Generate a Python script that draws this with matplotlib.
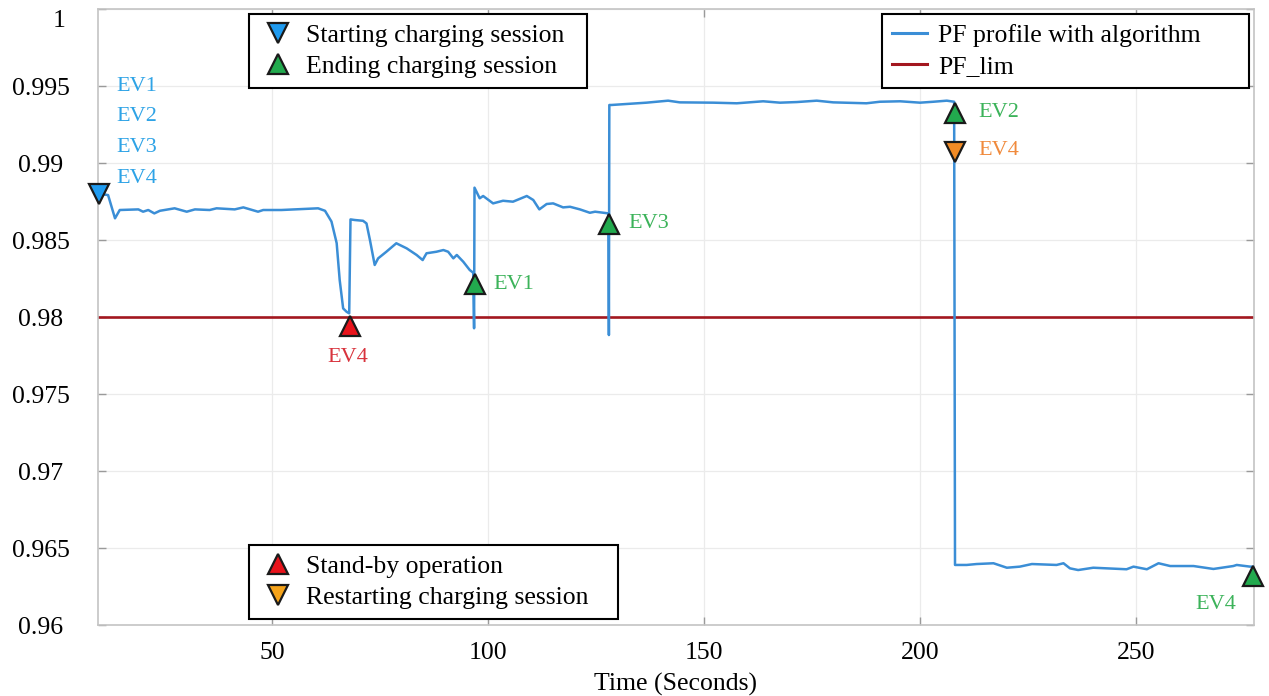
import matplotlib.pyplot as plt
from matplotlib.lines import Line2D

plt.rcParams['font.family'] = ['Liberation Serif', 'DejaVu Serif']

# PF profile with algorithm
time_s = [10, 12.1, 13.7, 14.8, 19.1, 20.2, 21.4, 22.8, 24.1, 27.5, 30.3, 32.2,
          35.6, 37.2, 41.4, 43.4, 46.8, 48.0, 52.2, 55.3, 60.7, 62.3, 63.8, 65.0,
          65.7, 66.5, 67.3, 67.9, 68.2, 69.2, 71.1, 71.9, 72.7, 73.8, 74.6, 76.5,
          78.8, 81.2, 83.5, 84.9, 85.8, 88.1, 89.7, 90.8, 92.0, 92.8, 94.3, 95.8,
          96.6, 96.8, 96.9, 98.1, 98.9, 101.2, 103.5, 105.8, 109.0, 110.5, 111.9,
          113.6, 115.1, 117.4, 119.0, 121.3, 123.6, 124.8, 127.9, 128.0, 128.1,
          128.6, 136.7, 141.7, 144.4, 152.2, 157.6, 163.7, 167.6, 171.5, 176.1,
          179.9, 187.6, 190.7, 195.4, 200.0, 203.1, 206.2, 207.9, 208.1, 210.8,
          213.1, 217.0, 220.1, 223.1, 225.9, 231.6, 233.2, 234.7, 236.6, 240.1,
          247.8, 249.4, 252.5, 255.2, 257.9, 263.3, 267.9, 272.5, 273.3, 276.4,
          277.0]
pf = [0.9880, 0.98792, 0.98641, 0.98695, 0.98699, 0.98684, 0.98695, 0.98673,
      0.98690, 0.98706, 0.98684, 0.98699, 0.98695, 0.98706, 0.98699, 0.98712,
      0.98684, 0.98695, 0.98695, 0.98699, 0.98706, 0.98690, 0.98620, 0.98480,
      0.98240, 0.98056, 0.98034, 0.98024, 0.98634, 0.98630, 0.98625, 0.98608,
      0.98500, 0.98338, 0.98381, 0.98424, 0.98479, 0.98446, 0.98403, 0.98370,
      0.98414, 0.98424, 0.98435, 0.98424, 0.98381, 0.98403, 0.98359, 0.98305,
      0.98288, 0.97927, 0.98840, 0.98771, 0.98786, 0.98738, 0.98755, 0.98749,
      0.98786, 0.98760, 0.98699, 0.98734, 0.98738, 0.98712, 0.98716, 0.98699,
      0.98677, 0.98684, 0.98673, 0.97883, 0.99377, 0.99377, 0.99392, 0.99405,
      0.99394, 0.99392, 0.99388, 0.99401, 0.99392, 0.99396, 0.99405, 0.99394,
      0.99388, 0.99398, 0.99401, 0.99392, 0.99398, 0.99405, 0.99398, 0.96390,
      0.96390, 0.96396, 0.96401, 0.96372, 0.96379, 0.96396, 0.96390, 0.96401,
      0.96368, 0.96357, 0.96372, 0.96362, 0.96379, 0.96362, 0.96401, 0.96383,
      0.96383, 0.96364, 0.96383, 0.96390, 0.96379, 0.96379]
pf_lim = 0.98

# event markers
start_t, start_pf = [10], [0.9880]
end_t = [97.0, 128.1, 208.0, 277.1]
end_pf = [0.98214, 0.98606, 0.99328, 0.96318]
standby_t, standby_pf = [68.1], [0.97939]
restart_t, restart_pf = [208.0], [0.99070]

# event labels: (x, y, text, colour, ha)
labels = [
    (14.1, 0.995, 'EV1', '#2ea3e6', 'left'),
    (14.1, 0.993, 'EV2', '#2ea3e6', 'left'),
    (14.1, 0.991, 'EV3', '#2ea3e6', 'left'),
    (14.1, 0.989, 'EV4', '#2ea3e6', 'left'),
    (67.6, 0.9774, 'EV4', '#d8333d', 'center'),
    (101.2, 0.98208, 'EV1', '#3cb35a', 'left'),
    (132.6, 0.9861, 'EV3', '#3cb35a', 'left'),
    (213.4, 0.99331, 'EV2', '#3cb35a', 'left'),
    (213.4, 0.99084, 'EV4', '#f08a3c', 'left'),
    (273.3, 0.9613, 'EV4', '#3cb35a', 'right'),
]

y_ticks = [0.96, 0.965, 0.97, 0.975, 0.98, 0.985, 0.99, 0.995, 1.0]
y_ticklabels = ['0.96', '0.965', '0.97', '0.975', '0.98', '0.985', '0.99', '0.995', '1']

c_line = '#3b8ed6'
c_lim = '#a3171f'
c_blue = '#1f9bf0'
c_green = '#22aa4e'
c_red = '#e8131b'
c_orange = '#f28b25'

fig = plt.figure(figsize=(12.69, 6.96), dpi=100)
ax = fig.add_axes([0.077, 0.102, 0.9112, 0.885])

ax.plot(time_s, pf, color=c_line, lw=1.8, zorder=3)
ax.axhline(pf_lim, color=c_lim, lw=1.9, zorder=2)

mk = dict(ls='none', ms=15, mec='#1a1a1a', mew=1.6, zorder=5, clip_on=False)
ax.plot(start_t, start_pf, marker='v', mfc=c_blue, **mk)
ax.plot(end_t, end_pf, marker='^', mfc=c_green, **mk)
ax.plot(standby_t, standby_pf, marker='^', mfc=c_red, **mk)
ax.plot(restart_t, restart_pf, marker='v', mfc=c_orange, **mk)

for x, y, s, c, ha in labels:
    ax.text(x, y, s, color=c, fontsize=16, ha=ha, va='center', zorder=6)

ax.set_xlim(9.7, 277.3)
ax.set_ylim(0.96, 1.0)
ax.set_xticks([50, 100, 150, 200, 250])
ax.set_yticks(y_ticks)
# the top label "1" sits a little lower in the original; drawn separately below
ax.set_yticklabels(y_ticklabels[:-1] + [''])
ax.grid(True, color='#ebebeb', lw=0.9)
ax.set_axisbelow(True)
for sp in ax.spines.values():
    sp.set_color('#c4c4c4')
    sp.set_linewidth(1.2)
ax.tick_params(direction='in', length=6, color='#9a9a9a', width=1.0,
               top=True, right=True, labelsize=18.5)
ax.tick_params(axis='x', pad=12)
ax.tick_params(axis='y', pad=41)
for lab in ax.get_yticklabels():
    lab.set_horizontalalignment('center')
fig.text(59 / 1269, 1 - 21 / 696, y_ticklabels[-1], fontsize=18.5,
         ha='center', va='center')
ax.set_xlabel('Time (Seconds)', fontsize=18.5, labelpad=7)

leg_kw = dict(fontsize=18.5, frameon=True, fancybox=False, framealpha=1,
              edgecolor='black', borderaxespad=0, borderpad=0.38,
              labelspacing=0.33)

def marker_handle(m, fc):
    return Line2D([], [], ls='none', marker=m, ms=15, mfc=fc, mec='#1a1a1a', mew=1.6)

# trailing spaces give the wide right padding of the original legends
leg1 = ax.legend([marker_handle('v', c_blue), marker_handle('^', c_green)],
                 ['Starting charging session  ', 'Ending charging session'],
                 loc='upper left', bbox_to_anchor=(0.131, 0.992),
                 handlelength=1.49, handletextpad=0.34, **leg_kw)
leg1.get_frame().set_linewidth(1.5)
ax.add_artist(leg1)

leg2 = ax.legend([Line2D([], [], color=c_line, lw=2.2), Line2D([], [], color=c_lim, lw=2.2)],
                 ['PF profile with algorithm      ', 'PF_lim'],
                 loc='upper right', bbox_to_anchor=(0.996, 0.992),
                 handlelength=1.36, handletextpad=0.44, **leg_kw)
leg2.get_frame().set_linewidth(1.5)
ax.add_artist(leg2)

leg3 = ax.legend([marker_handle('^', c_red), marker_handle('v', '#f5a31a')],
                 ['Stand-by operation', 'Restarting charging session   '],
                 loc='lower left', bbox_to_anchor=(0.131, 0.0097),
                 handlelength=1.49, handletextpad=0.34, **leg_kw)
leg3.get_frame().set_linewidth(1.5)

fig.savefig('out.png', dpi=100)
